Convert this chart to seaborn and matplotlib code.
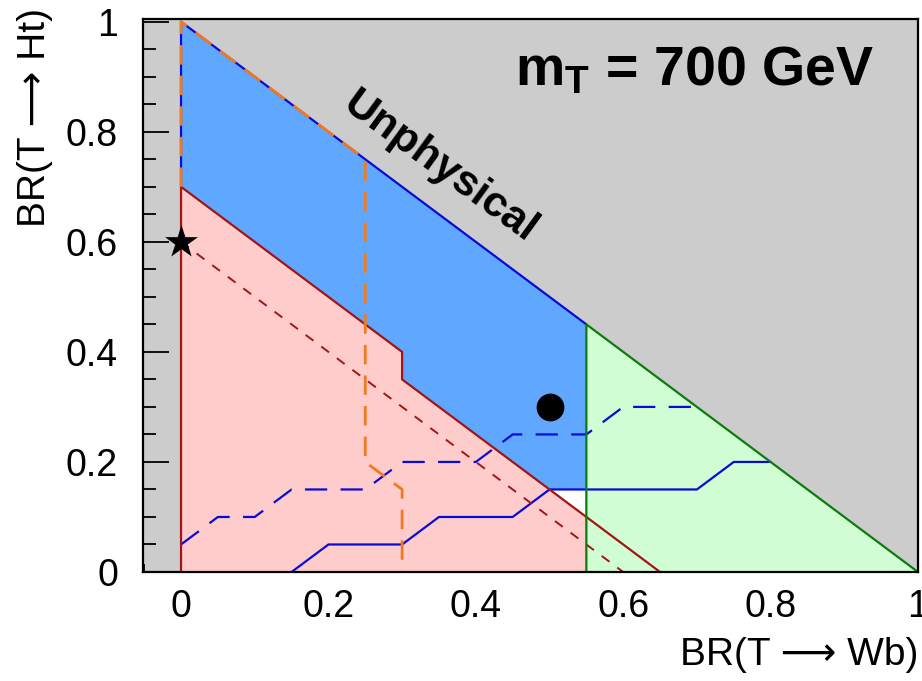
import numpy as np
import pandas as pd
import matplotlib
matplotlib.use("Agg")
import matplotlib.pyplot as plt
from matplotlib.ticker import FixedLocator, FixedFormatter, MultipleLocator
import seaborn as sns

sns.set_style("ticks")
plt.rcParams["font.family"] = ["Liberation Sans", "DejaVu Sans"]
plt.rcParams["mathtext.fontset"] = "custom"
plt.rcParams["mathtext.rm"] = "Liberation Sans"
plt.rcParams["mathtext.bf"] = "Liberation Sans:bold"
plt.rcParams["text.color"] = "black"
plt.rcParams["xtick.color"] = "black"
plt.rcParams["ytick.color"] = "black"
plt.rcParams["axes.labelcolor"] = "black"

# ---- exclusion contours in the BR(T->Wb) / BR(T->Ht) plane ----
# blue analysis, observed and expected
blue_obs_x = [0.15, 0.20, 0.30, 0.35, 0.45, 0.50, 0.70, 0.75, 0.80]
blue_obs_y = [0.00, 0.05, 0.05, 0.10, 0.10, 0.15, 0.15, 0.20, 0.20]
blue_exp_x = [0.00, 0.05, 0.10, 0.15, 0.25, 0.30, 0.40, 0.45, 0.55, 0.60, 0.70]
blue_exp_y = [0.05, 0.10, 0.10, 0.15, 0.15, 0.20, 0.20, 0.25, 0.25, 0.30, 0.30]
# red analysis, observed and expected
red_obs_x = [0.00, 0.00, 0.30, 0.30, 0.65]
red_obs_y = [0.00, 0.70, 0.40, 0.35, 0.00]
red_exp_x = [0.00, 0.60]
red_exp_y = [0.60, 0.00]
# orange (expected) contour
orange_x = [0.00, 0.00, 0.25, 0.25, 0.27, 0.29, 0.30, 0.30]
orange_y = [0.70, 1.00, 0.75, 0.20, 0.18, 0.16, 0.15, 0.00]
# green analysis: excluded for BR(Wb) above this value
green_edge = 0.55
# benchmark points
star_x, star_y = [0.0], [0.6]
dot_x, dot_y = [0.5], [0.3]

x_ticks = [0, 0.2, 0.4, 0.6, 0.8, 1]
x_tick_labels = ["0", "0.2", "0.4", "0.6", "0.8", "1"]
y_ticks = [0, 0.2, 0.4, 0.6, 0.8, 1]
y_tick_labels = ["0", "0.2", "0.4", "0.6", "0.8", "1"]

GRAY = "#cccccc"
BLUE_FILL = "#60a8ff"
PINK = "#ffcccc"
GREEN_FILL = "#d0fdd4"
BLUE = "#0a0ad8"
RED = "#a31515"
ORANGE = "#f27a1e"
GREEN = "#0c7c0c"

fig = plt.figure(figsize=(9.22, 6.81), dpi=100)
ax = fig.add_axes([143 / 922, 1 - 572 / 681, 775 / 922, 553 / 681])
ax.set_facecolor(GRAY)
ax.set_xlim(-0.0516, 1.0)
ax.set_ylim(0, 1.005)

# physical region (BR(Wb) + BR(Ht) <= 1)
ax.fill([0, 1, 0], [0, 0, 1], color="white", lw=0, zorder=1)

# blue excluded region: above the observed blue contour, below the physical limit
bx = [0.0] + blue_obs_x + [0.0]
by = [0.0] + blue_obs_y + [1.0]
ax.fill(bx, by, color=BLUE_FILL, lw=0, zorder=2)

# red excluded region
ax.fill(red_obs_x + [0.0], red_obs_y + [0.0], color=PINK, lw=0, zorder=3)

# green excluded region
ax.fill([green_edge, 1.0, green_edge], [0, 0, 1 - green_edge], color=GREEN_FILL, lw=0, zorder=4)


def line(xs, ys, color, lw, ls="-", z=6):
    df = pd.DataFrame({"x": xs, "y": ys})
    sns.lineplot(data=df, x="x", y="y", sort=False, estimator=None, ax=ax,
                 color=color, lw=lw, linestyle=ls, zorder=z)


# border of the blue region along the physical limit and the y axis
line([0.0, 0.0, green_edge], [0.7, 1.0, 1 - green_edge], BLUE, 1.6)
line(blue_obs_x, blue_obs_y, BLUE, 1.6)
line(blue_exp_x, blue_exp_y, BLUE, 1.6, (0, (10, 6)))
line(red_obs_x, red_obs_y, RED, 1.6)
line(red_exp_x, red_exp_y, RED, 1.4, (0, (5, 5)))
line([green_edge, green_edge, 1.0], [0.0, 1 - green_edge, 0.0], GREEN, 1.6, z=7)
line(orange_x, orange_y, ORANGE, 2.0, (0, (7, 4)), z=8)

sns.scatterplot(x=star_x, y=star_y, marker="*", s=620, color="black",
                edgecolor="black", linewidth=0, ax=ax, zorder=10)
sns.scatterplot(x=dot_x, y=dot_y, marker="o", s=400, color="black",
                edgecolor="black", linewidth=0, ax=ax, zorder=10)

ax.text(0.351, 0.735, "Unphysical", rotation=-36, rotation_mode="anchor",
        ha="center", va="center", fontsize=31, fontweight="bold", zorder=11)
ax.text(0.453, 0.885, r"$\mathbf{m_T}$ = 700 GeV", ha="left", va="baseline",
        fontsize=40, fontweight="bold", zorder=11)

# axes styling
for sp in ax.spines.values():
    sp.set_linewidth(1.6)
    sp.set_color("black")
    sp.set_zorder(12)
ax.xaxis.set_major_locator(FixedLocator(x_ticks))
ax.xaxis.set_major_formatter(FixedFormatter(x_tick_labels))
ax.yaxis.set_major_locator(FixedLocator(y_ticks))
ax.yaxis.set_major_formatter(FixedFormatter(y_tick_labels))
ax.xaxis.set_minor_locator(MultipleLocator(0.05))
ax.yaxis.set_minor_locator(MultipleLocator(0.05))
ax.tick_params(axis="both", which="both", direction="in", top=False, right=False,
               width=1.3, color="black", labelcolor="black", labelsize=27)
ax.tick_params(axis="x", which="major", length=11.5, pad=12)
ax.tick_params(axis="x", which="minor", length=6)
ax.tick_params(axis="y", which="major", length=19, pad=18)
ax.tick_params(axis="y", which="minor", length=9.5)
ax.set_xlabel("")
ax.set_ylabel("")
for t in ax.get_xticklines() + ax.get_yticklines():
    t.set_zorder(12)

fig.text(918 / 922, 1 - 655 / 681, "BR(T \u27f6 Wb)", ha="right", va="center", fontsize=28)
fig.text(35 / 922, 1 - 8 / 681, "BR(T \u27f6 Ht)", ha="center", va="top", rotation=90, fontsize=28)

fig.savefig("out.png", dpi=100)
